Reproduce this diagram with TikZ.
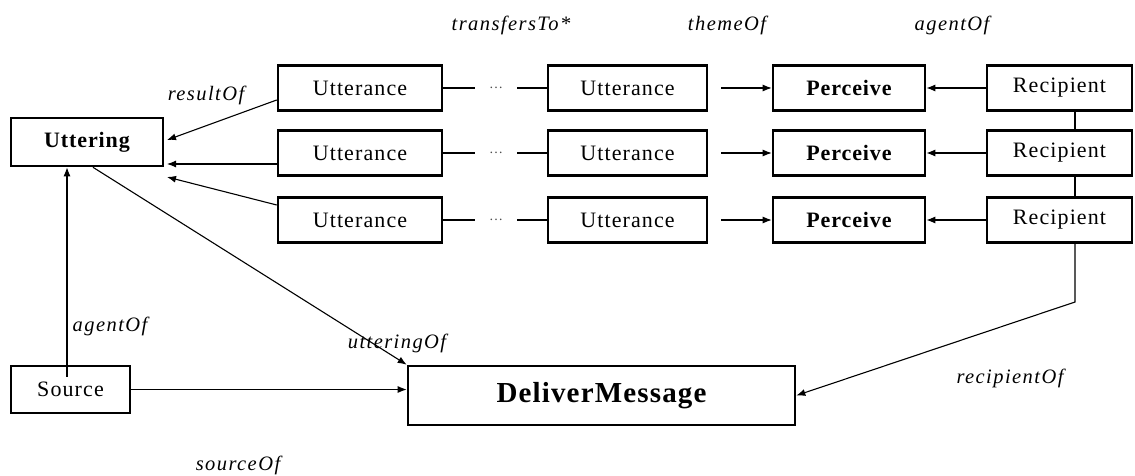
\documentclass[tikz,border=0pt]{standalone}
\usepackage{fontspec}
\setmainfont{Liberation Serif}
\usetikzlibrary{arrows.meta}
\begin{document}
\begin{tikzpicture}[x=1pt,y=-1pt,
  box/.style={draw,line width=2.6pt,minimum height=45pt,inner sep=0pt,font=\fontsize{22}{26}\selectfont\addfontfeatures{LetterSpace=5}},
  bbox/.style={box,font=\fontsize{22}{26}\selectfont\bfseries\addfontfeatures{LetterSpace=4}},
  conn/.style={line width=1.1pt},
  arr/.style={conn,-{Latex[length=9pt,width=7pt]}},
  lab/.style={inner sep=0pt,font=\fontsize{20.5}{24}\selectfont\itshape\addfontfeatures{LetterSpace=7}},
  dotsnode/.style={inner sep=0pt,minimum width=42pt,font=\fontsize{14}{16}\selectfont,text=black!70}]
\useasboundingbox (0,0) rectangle (1135,476);

\node[bbox,minimum width=152pt,minimum height=48pt] (utt) at (87,142) {Uttering};
\node[box,minimum width=119pt,minimum height=47pt] (src) at (70.5,389.5) {Source};
\node[box,minimum width=387pt,minimum height=59pt,font=\fontsize{29}{34}\selectfont\bfseries\addfontfeatures{LetterSpace=4}] (dm) at (601.5,395.5) {DeliverMessage};

\foreach \i/\y in {1/88,2/153,3/220}{
  \node[box,minimum width=164pt] (ua\i) at (360,\y) {Utterance};
  \node[dotsnode] (d\i) at (496,\y) {\dots};
  \node[box,minimum width=159pt] (ub\i) at (627.5,\y) {Utterance};
  \node[bbox,minimum width=152pt] (p\i) at (849,\y) {Perceive};
  \node[box,minimum width=145pt] (r\i) at (1059.5,\y) {Recipient};
  \draw[conn] (ua\i.east) -- (d\i.west);
  \draw[conn] (d\i.east) -- (ub\i.west);
  \draw[arr,shorten <=13pt] (ub\i.east) -- (p\i.west);
  \draw[arr] (r\i.west) -- (p\i.east);
}

% result arrows to Uttering
\coordinate (t1) at (167,140);
\coordinate (t2) at (167,164);
\coordinate (t3) at (167,177);
\draw[arr] ([yshift=-12pt]ua1.west) -- (t1);
\draw[arr] ([yshift=-11pt]ua2.west) -- (t2);
\draw[arr] ([yshift=15pt]ua3.west) -- (t3);

% recipient chain
\draw[conn] ([xshift=15.5pt]r1.south) -- ([xshift=15.5pt]r2.north);
\draw[conn] ([xshift=15.5pt]r2.south) -- ([xshift=15.5pt]r3.north);
\coordinate (bend) at (1075,302);
\draw[arr] ([xshift=15.5pt]r3.south) -- (bend) -- (dm.east);

% source / uttering connectors
\draw[arr] ([xshift=-3.5pt,yshift=-12pt]src.north) -- ([xshift=-20pt]utt.south);
\draw[arr] (src.east) -- (src.east -| dm.west);
\draw[arr] ([xshift=6pt]utt.south) -- (dm.north west);

% labels
\node[lab] (l1) at (206,95) {resultOf};
\node[lab] (l2) at (511,25) {transfersTo*};
\node[lab] (l3) at (727,25) {themeOf};
\node[lab] (l4) at (952,25) {agentOf};
\node[lab] (l5) at (110,326) {agentOf};
\node[lab] (l6) at (397,343) {utteringOf};
\node[lab] (l7) at (238,465) {sourceOf};
\node[lab] (l8) at (1010,378) {recipientOf};
\end{tikzpicture}
\end{document}
